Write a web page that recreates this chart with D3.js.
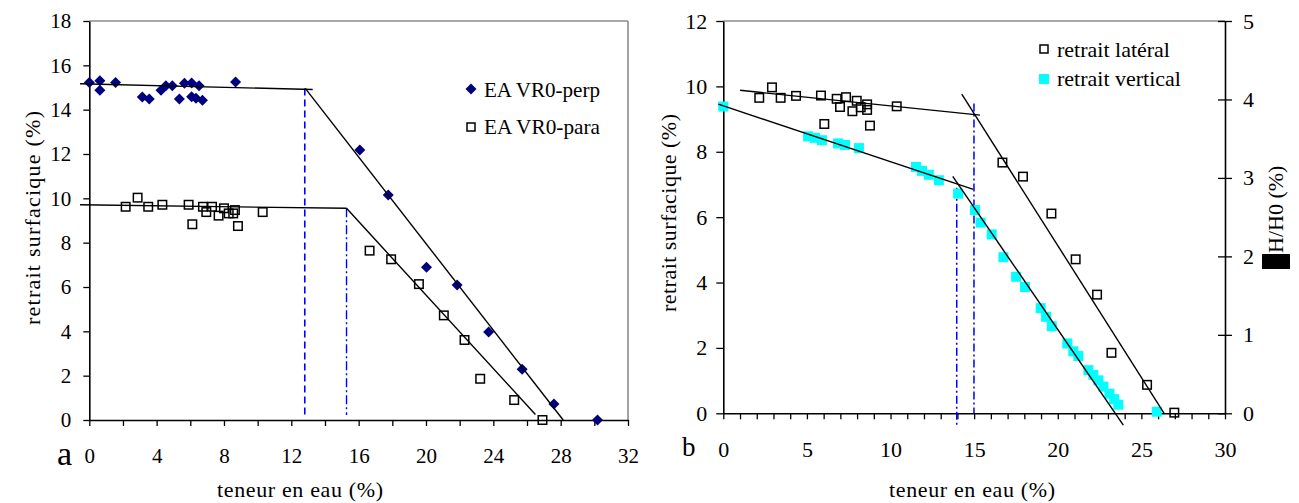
<!DOCTYPE html>
<html><head><meta charset="utf-8">
<script src="https://cdn.jsdelivr.net/npm/d3@7"></script>
<style>
body{margin:0;background:#fff}
svg text{font-family:'Liberation Serif',Tinos,'Times New Roman',Times,serif !important;fill:#000}
</style>
</head><body><svg id="c" width="1299" height="503"></svg>
<script>
// ---------- data: chart a ----------
const perpX = [0,0.63,0.63,1.56,3.15,3.56,4.26,4.55,4.93,5.35,5.65,6.08,6.08,6.34,6.52,6.72,8.69,16.07,17.76,20.03,21.85,23.72,25.71,27.6,30.19];
const perpY = [15.22,15.31,14.88,15.22,14.57,14.48,14.88,15.08,15.08,14.48,15.19,15.2,14.58,14.52,15.08,14.42,15.25,12.18,10.15,6.89,6.09,3.97,2.29,0.72,0];
const paraX = [2.16,2.87,3.5,4.34,5.9,6.12,6.75,6.95,7.29,7.68,8.0,8.28,8.55,8.65,8.83,10.3,16.65,17.93,19.58,21.06,22.29,23.22,25.24,26.92];
const paraY = [9.62,10.03,9.62,9.71,9.71,8.83,9.62,9.38,9.62,9.22,9.55,9.32,9.32,9.47,8.75,9.38,7.64,7.25,6.13,4.72,3.61,1.86,0.9,0];
const fitPerpFlat = [[-0.55,15.17],[13.27,14.91]];
const fitPerpSteep = [[12.83,14.96],[28.15,0]];
const fitParaFlat = [[-0.55,9.71],[15.28,9.55]];
const fitParaSteep = [[15.28,9.55],[26.5,0.25]];
const markA1 = [[12.8,14.95],[12.8,0.23]];
const markA2 = [[15.28,9.55],[15.28,0.23]];
const xTicksA = [0,2,4,6,8,10,12,14,16,18,20,22,24,26,28,30,32];
const xLabelsA = [0,4,8,12,16,20,24,28,32];
const yTicksA = [0,2,4,6,8,10,12,14,16,18];
const legendA = ["EA VR0-perp","EA VR0-para"];

// ---------- data: chart b ----------
const latX = [2.15,2.91,3.43,4.35,5.84,6.04,6.78,6.98,7.34,7.72,7.98,8.22,8.6,8.6,8.77,10.37,16.69,17.92,19.62,21.07,22.35,23.21,25.34,26.97];
const latY = [9.65,9.97,9.65,9.71,9.72,8.85,9.62,9.37,9.67,9.24,9.56,9.36,9.45,9.28,8.8,9.39,7.67,7.24,6.11,4.71,3.63,1.85,0.87,0.02];
const vertX = [0,5.07,5.48,5.9,6.86,7.28,8.11,11.52,11.88,12.29,12.89,14.04,15.05,15.39,16.05,16.75,17.51,18.04,18.98,19.3,19.64,20.57,20.93,21.23,21.83,22.13,22.43,22.73,23.09,23.37,23.62,25.92];
const vertY = [3.91,3.53,3.51,3.48,3.44,3.42,3.38,3.14,3.09,3.04,2.97,2.8,2.59,2.43,2.28,1.99,1.74,1.61,1.34,1.23,1.11,0.89,0.79,0.73,0.55,0.49,0.42,0.34,0.25,0.18,0.11,0.02];
const fitLatFlat = [[1.0,9.88],[15.35,9.12]];
const fitLatSteep = [[14.26,9.76],[26.36,0]];
const fitVertFlat = [[-0.3,3.94],[14.95,2.855]];   // right axis units
const fitVertSteep = [[13.72,3.02],[23.92,-0.15]]; // right axis units
const markB1 = [[13.96,6.9],[13.96,-0.41]];
const markB2 = [[14.99,9.48],[14.99,0]];
const xTicksB = d3.range(0,31,1);
const xLabelsB = [0,5,10,15,20,25,30];
const yTicksB = [0,2,4,6,8,10,12];
const y2TicksB = [0,1,2,3,4,5];
const legendB = ["retrait latéral","retrait vertical"];

const FONT = "'Liberation Serif', Tinos, 'Times New Roman', Times, serif";
const svg = d3.select("#c");
const NAVY = "#000080", CYAN = "#00FFFF", BLUE = "#0000FF", GRAY = "#8c8c8c";

function styleAxis(g, fs){
  g.attr("font-family", FONT).attr("font-size", fs);
  g.selectAll("text").style("font-size", fs + "px").style("font-family", FONT);
  g.selectAll("line").attr("stroke", "#000").attr("stroke-width", 1.3);
  g.select(".domain").attr("stroke", "#000").attr("stroke-width", 1.6);
}
function txt(g, fs){
  return g.append("text").style("font-family", FONT).style("font-size", fs + "px");
}
function seg(g, pts, sx, sy, opts){
  g.append("line")
    .attr("x1", sx(pts[0][0])).attr("y1", sy(pts[0][1]))
    .attr("x2", sx(pts[1][0])).attr("y2", sy(pts[1][1]))
    .attr("stroke", opts.color || "#000").attr("stroke-width", opts.w || 1.4)
    .attr("stroke-dasharray", opts.dash || null);
}
function diamonds(g, xs, ys, sx, sy, r){
  g.selectAll(null).data(xs).enter().append("path")
    .attr("d", (d,i)=>{const cx=sx(d), cy=sy(ys[i]);
      return `M${cx},${cy-r}L${cx+r},${cy}L${cx},${cy+r}L${cx-r},${cy}Z`;})
    .attr("fill", NAVY);
}
function squares(g, xs, ys, sx, sy, s, fill, stroke){
  g.selectAll(null).data(xs).enter().append("rect")
    .attr("x", (d)=>sx(d)-s/2).attr("y", (d,i)=>sy(ys[i])-s/2)
    .attr("width", s).attr("height", s)
    .attr("fill", fill).attr("stroke", stroke).attr("stroke-width", stroke==="none"?0:1.5);
}

// ================= Chart a =================
{
  const x = d3.scaleLinear().domain([0,32]).range([89.3,628]);
  const y = d3.scaleLinear().domain([0,18]).range([420,21]);
  const g = svg.append("g");
  g.append("line").attr("x1",x(0)).attr("x2",x(32)).attr("y1",y(18)).attr("y2",y(18)).attr("stroke",GRAY).attr("stroke-width",1.6);
  g.append("line").attr("x1",x(32)).attr("x2",x(32)).attr("y1",y(18)).attr("y2",y(0)).attr("stroke",GRAY).attr("stroke-width",1.6);

  const ax = g.append("g").attr("transform",`translate(0,${y(0)})`)
    .call(d3.axisBottom(x).tickValues(xTicksA).tickSize(6).tickSizeOuter(0).tickPadding(22)
      .tickFormat(d => xLabelsA.includes(d) ? d : ""));
  styleAxis(ax, 21);
  const ay = g.append("g").attr("transform",`translate(${x(0)},0)`)
    .call(d3.axisLeft(y).tickValues(yTicksA).tickSize(6).tickSizeOuter(0).tickPadding(12));
  styleAxis(ay, 21);

  seg(g, markA1, x, y, {color:BLUE, w:1.6, dash:"7,4"});
  seg(g, markA2, x, y, {color:BLUE, w:1.4, dash:"9,3,2,3"});

  diamonds(g, perpX, perpY, x, y, 5.5);
  squares(g, paraX, paraY, x, y, 8.5, "none", "#000");

  seg(g, fitPerpFlat, x, y, {});
  seg(g, fitPerpSteep, x, y, {});
  seg(g, fitParaFlat, x, y, {});
  seg(g, fitParaSteep, x, y, {});

  const lg = g.append("g");
  lg.append("path").attr("d","M471,83.5L476.5,89L471,94.5L465.5,89Z").attr("fill",NAVY);
  lg.append("rect").attr("x",467).attr("y",123).attr("width",8).attr("height",8).attr("fill","none").attr("stroke","#000").attr("stroke-width",1.5);
  txt(lg,21).attr("x",484).attr("y",97).attr("textLength",116).attr("lengthAdjust","spacingAndGlyphs").text(legendA[0]);
  txt(lg,21).attr("x",484).attr("y",134).attr("textLength",116).attr("lengthAdjust","spacingAndGlyphs").text(legendA[1]);

  txt(g,22).attr("x",300).attr("y",497).attr("text-anchor","middle")
    .attr("textLength",166).attr("lengthAdjust","spacing").text("teneur en eau (%)");
  txt(g,22).attr("transform","translate(40,218) rotate(-90)").attr("text-anchor","middle")
    .attr("textLength",214).attr("lengthAdjust","spacing").text("retrait surfacique (%)");
  txt(g,34).attr("x",57).attr("y",465).text("a");
}

// ================= Chart b =================
{
  const x = d3.scaleLinear().domain([0,30]).range([723.3,1225]);
  const y = d3.scaleLinear().domain([0,12]).range([413.3,21]);
  const y2 = d3.scaleLinear().domain([0,5]).range([413.3,21]);
  const g = svg.append("g");
  g.append("line").attr("x1",x(0)).attr("x2",x(30)).attr("y1",y(12)).attr("y2",y(12)).attr("stroke",GRAY).attr("stroke-width",1.6);

  const ax = g.append("g").attr("transform",`translate(0,${y(0)})`)
    .call(d3.axisBottom(x).tickValues(xTicksB).tickSize(6).tickSizeOuter(0).tickPadding(22)
      .tickFormat(d => xLabelsB.includes(d) ? d : ""));
  styleAxis(ax, 22);
  const ay = g.append("g").attr("transform",`translate(${x(0)},0)`)
    .call(d3.axisLeft(y).tickValues(yTicksB).tickSize(7).tickSizeOuter(0).tickPadding(9));
  styleAxis(ay, 22);
  const ay2 = g.append("g").attr("transform",`translate(${x(30)},0)`)
    .call(d3.axisRight(y2).tickValues(y2TicksB).tickSize(7).tickSizeOuter(0).tickPadding(11).tickFormat(d3.format("d")));
  styleAxis(ay2, 22);
  ay2.selectAll(".tick line").attr("x1",-7).attr("x2",7);

  seg(g, markB1, x, y, {color:BLUE, w:1.5, dash:"8,3,2,3"});
  seg(g, markB2, x, y, {color:BLUE, w:1.5, dash:"8,3,2,3"});

  squares(g, vertX, vertY, x, y2, 10, CYAN, "none");
  squares(g, latX, latY, x, y, 8.5, "none", "#000");

  seg(g, fitLatFlat, x, y, {});
  seg(g, fitLatSteep, x, y, {});
  seg(g, fitVertFlat, x, y2, {});
  seg(g, fitVertSteep, x, y2, {});

  const lg = g.append("g");
  lg.append("rect").attr("x",1040).attr("y",45).attr("width",8).attr("height",8).attr("fill","none").attr("stroke","#000").attr("stroke-width",1.5);
  lg.append("rect").attr("x",1039).attr("y",74).attr("width",10).attr("height",10).attr("fill",CYAN);
  txt(lg,22).attr("x",1057).attr("y",57).text(legendB[0]);
  txt(lg,22).attr("x",1057).attr("y",86).text(legendB[1]);

  txt(g,22).attr("x",972).attr("y",497).attr("text-anchor","middle")
    .attr("textLength",166).attr("lengthAdjust","spacing").text("teneur en eau (%)");
  txt(g,22).attr("transform","translate(676,213) rotate(-90)").attr("text-anchor","middle")
    .attr("textLength",198).attr("lengthAdjust","spacing").text("retrait surfacique (%)");
  g.append("rect").attr("x",1262).attr("y",254).attr("width",28).attr("height",15).attr("fill","#000");
  txt(g,22).attr("transform","translate(1283,253) rotate(-90)").attr("text-anchor","start").text("H/H0 (%)");
  txt(g,27).attr("x",682).attr("y",456).text("b");
}
</script>
</body></html>
